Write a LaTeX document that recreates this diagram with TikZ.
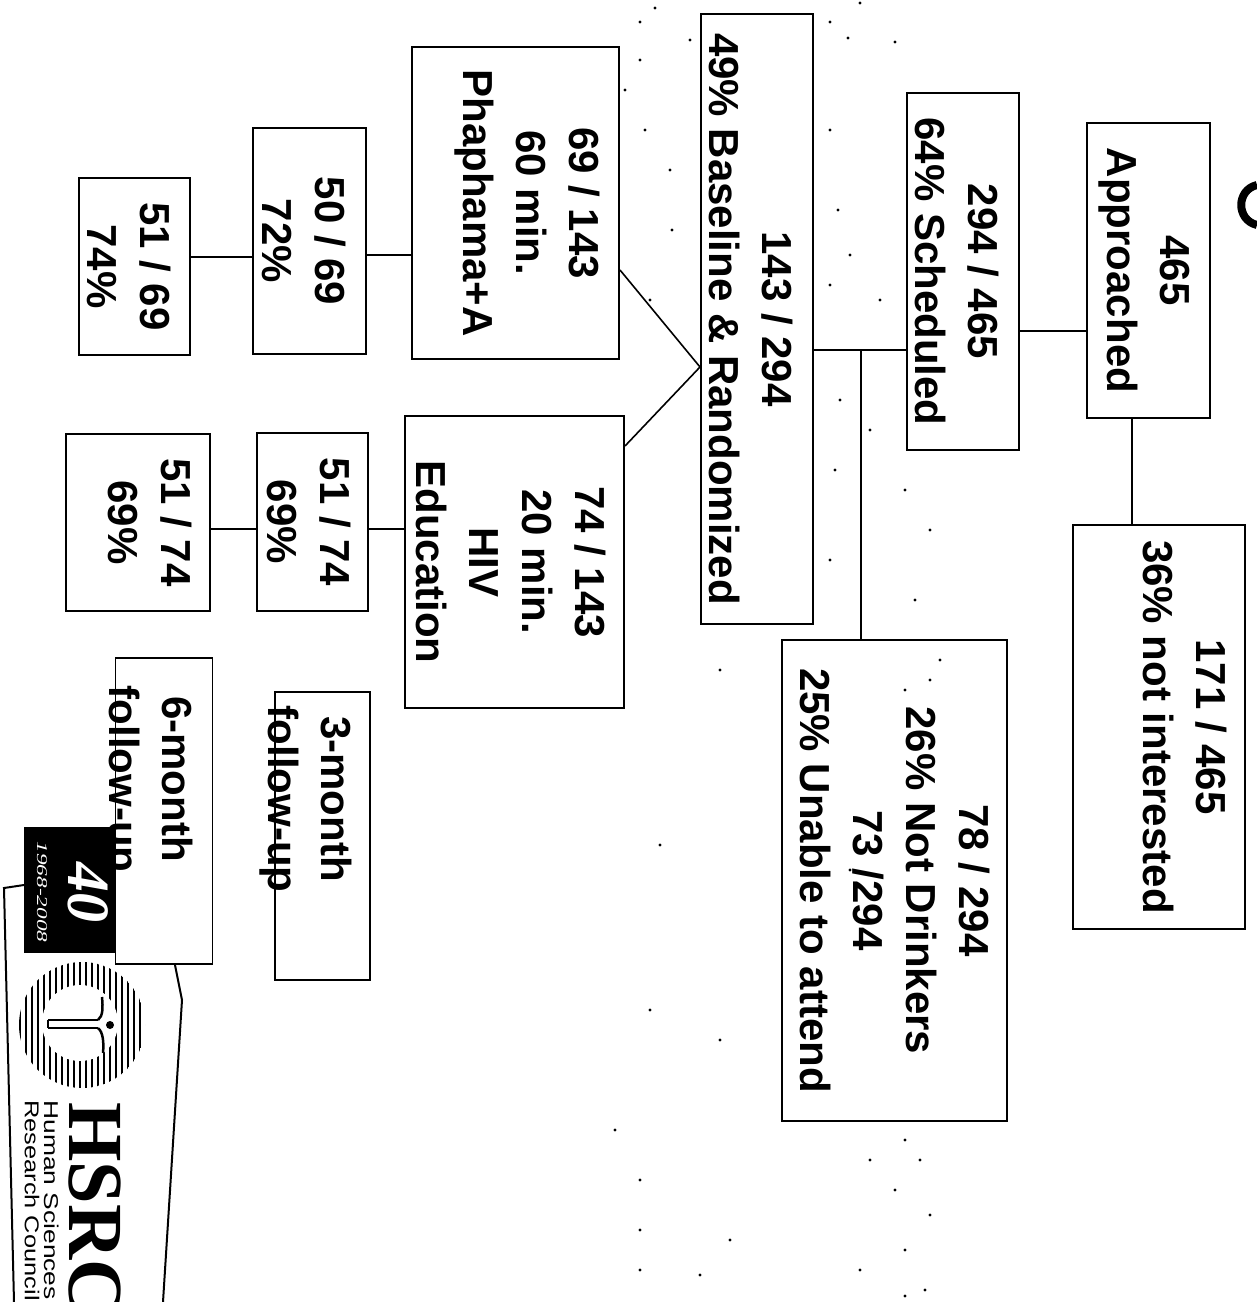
\documentclass[tikz,border=0pt]{standalone}
\usepackage{fontspec}
\setmainfont{Liberation Sans}
\newfontfamily\serifbold{Liberation Serif}
\usepackage{tikz}

% text lines in a box, #2 = lift towards the top of the letters, #1 = sideways
\newcommand{\boxlines}[3][0pt]{\hspace*{#1}\raisebox{\dimexpr#2-8pt}[0pt][0pt]{\begin{tabular}[c]{@{}c@{}}#3\end{tabular}}}

\tikzset{
	box/.style={draw, line width=2pt, fill=white, rotate=-90, inner sep=0pt,
		font=\fontsize{42}{53}\selectfont\bfseries},
	link/.style={line width=1.6pt},
	logo/.style={line width=2pt}
}

\begin{document}
\begin{tikzpicture}[x=1pt, y=-1pt]
		
		\useasboundingbox (0,0) rectangle (1257,1302);
		
		% logo
		\draw[logo] (24,885) -- (4,888) -- (14,1302);
		\draw[logo] (175,965) -- (182,1000) -- (163,1302);
		\fill[black] (24,827) rectangle (118,953);
		\node[rotate=-90, text=white, font=\serifbold\itshape\bfseries\fontsize{60}{60}\selectfont] (forty) at (88,892) {40};
		\node[rotate=-90, xscale=1.55, text=white, font=\serifbold\itshape\fontsize{15}{15}\selectfont] (years) at (42,892) {1968-2008};
		\begin{scope}
		\clip (82,1025) circle (63);
		\foreach \x in {20,26,...,146}
		\draw[line width=2.8pt] (\x,960) -- (\x,1090);
		\end{scope}
		\fill[white] (80,1023) circle (38);
		\draw[line width=2pt] (48,1020) -- (98,1020) (48,1028) -- (98,1028) (48,1020) -- (48,1028);
		\draw[line width=2.5pt] (98,1020) .. controls (103,1016) and (103,1008) .. (102,997);
		\draw[line width=2.5pt] (98,1028) .. controls (103,1032) and (104,1042) .. (103,1053);
		\fill (110,1025) circle (4);
		\node[rotate=-90, xscale=.98, anchor=west, inner sep=0pt, font=\serifbold\bfseries\fontsize{78}{78}\selectfont] (hsrc) at (95,1102) {HSRC};
		\node[rotate=-90, xscale=1.32, anchor=west, inner sep=0pt, font=\fontsize{20}{20}\selectfont] (human) at (52,1100) {Human Sciences};
		\node[rotate=-90, xscale=1.27, anchor=west, inner sep=0pt, font=\fontsize{20}{20}\selectfont] (research) at (32,1100) {Research Council};
		
		% cut off letter
		\draw[line width=8pt] (1257,185) .. controls (1236,190) and (1236,220) .. (1257,225);
		
		% boxes
		\node[box, minimum width=295pt, minimum height=123pt] (app) at (1148.5,270.5) {\boxlines{-2pt}{465\\Approached}};
		\node[box, minimum width=404pt, minimum height=172pt] (no) at (1159,727) {\boxlines{23.5pt}{171 / 465\\36\% not interested}};
		\node[box, minimum width=357pt, minimum height=112pt] (sch) at (963,271.5) {\boxlines{-9pt}{294 / 465\\64\% Scheduled}};
		\node[box, minimum width=610pt, minimum height=112pt] (base) at (757,319) {\boxlines{-9pt}{143 / 294\\49\% Baseline \& Randomized}};
		\node[box, minimum width=481pt, minimum height=225pt] (out) at (894.5,880.5) {\boxlines{-2pt}{78 / 294\\26\% Not Drinkers\\73 /294\\25\% Unable to attend}};
		\node[box, minimum width=312pt, minimum height=207pt] (pha) at (515.5,203) {\boxlines{13pt}{69 / 143\\60 min.\\Phaphama+A}};
		\node[box, minimum width=292pt, minimum height=219pt] (edu) at (514.5,562) {\boxlines{-6.5pt}{74 / 143\\20 min.\\HIV\\Education}};
		\node[box, minimum width=226pt, minimum height=113pt] (pa) at (309.5,241) {\boxlines{-8.5pt}{50 / 69\\72\%}};
		\node[box, minimum width=178pt, minimum height=111pt] (ea) at (312.5,522) {\boxlines{-6.5pt}{51 / 74\\69\%}};
		\node[box, minimum width=177pt, minimum height=111pt] (pb) at (134.5,266.5) {\boxlines{-8.5pt}{51 / 69\\74\%}};
		\node[box, minimum width=177pt, minimum height=144pt] (eb) at (138,522.5) {\boxlines{9pt}{51 / 74\\69\%}};
		\node[box, line width=1.2pt, minimum width=288pt, minimum height=95pt] (m3) at (322.5,836) {\boxlines[-74pt]{-15pt}{3-month\\follow-up}};
		\node[box, line width=1.2pt, minimum width=306pt, minimum height=97pt] (m6) at (164,811) {\boxlines[-64pt]{-16pt}{6-month\\follow-up}};
		
		% connectors
		\draw[link]
		(app.south |- 0,331) -- (sch.north |- 0,331)
		(app.east -| 1132,0) -- (no.west -| 1132,0)
		(sch.south |- 0,350) -- (base.north |- 0,350)
		(861,350) -- (out.west -| 861,0)
		(base.south |- 0,367) -- (pha.north |- 0,270)
		(base.south |- 0,367) -- (edu.north |- 0,446)
		(pha.south |- 0,255) -- (pa.north |- 0,255)
		(pa.south |- 0,257) -- (pb.north |- 0,257)
		(edu.south |- 0,529) -- (ea.north |- 0,529)
		(ea.south |- 0,529) -- (eb.north |- 0,529);
		
		% scan specks
		\foreach \x/\y in {640/22,655/8,690/40,640/60,625/90,645/130,670/170,672/230,650/300,
			830/22,848/38,860/3,895/42,830/130,838/210,830/285,850/255,880/300,840/400,870/430,
			835/470,905/490,930/530,915/600,830/560,720/670,660/845,650/1010,720/1040,
			640/1180,640/1270,700/1275,640/1230,905/1140,920/1160,895/1190,930/1215,905/1250,
			870/1160,925/1290,905/1296,860/1270,615/1130,730/1240,930/680,940/660,905/690,850/870}
		\fill (\x,\y) circle (1.6);
		
		\end{tikzpicture}
\end{document}
